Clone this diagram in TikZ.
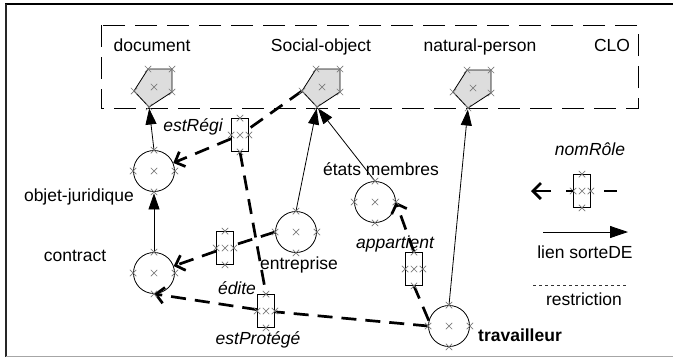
\documentclass[tikz,border=0pt]{standalone}
\usepackage{fontspec}
\setmainfont{Liberation Sans}
\usetikzlibrary{arrows.meta}
\definecolor{xcol}{RGB}{120,120,120}
\definecolor{pentfill}{RGB}{221,221,221}
\tikzset{
  xmk/.pic={\draw[xcol,line width=0.7pt,solid] (-3.2,-3.2)--(3.2,3.2) (-3.2,3.2)--(3.2,-3.2);},
  lbl/.style={font=\fontsize{17.5}{20}\selectfont, inner sep=0pt, anchor=base},
  ilbl/.style={lbl, font=\fontsize{17.5}{20}\selectfont\itshape},
  blbl/.style={lbl, font=\fontsize{17.5}{20}\selectfont\bfseries},
  pent/.style={draw=black, fill=pentfill, line width=0.8pt},
  conc/.style={circle, draw=black, line width=0.8pt, minimum size=41pt, inner sep=0pt, fill=white},
  relbox/.style={rectangle, draw=black, line width=0.8pt, minimum width=17pt, minimum height=33pt, inner sep=0pt, fill=white},
  sorte/.style={draw=black, line width=0.8pt, -{Triangle[length=16pt,width=11pt]}, shorten >=1.5pt},
  relline/.style={draw=black, line width=2.7pt, dash pattern=on 15pt off 9pt},
  relarrow/.style={relline, -{Straight Barb[length=8pt,width=16pt]}},
  clobox/.style={draw=black, line width=1pt, dash pattern=on 22pt off 10pt},
}
\newcommand\pentag[3]{%
  \begin{scope}[shift={(#2,#3)}]
    \coordinate (#1) at (0,0);
    \coordinate (#1-tl) at (-6,-18);
    \coordinate (#1-tr) at (18,-18);
    \coordinate (#1-r) at (18,5);
    \coordinate (#1-b) at (-5,20);
    \coordinate (#1-l) at (-20,4);
    \draw[pent] (#1-tl)--(#1-tr)--(#1-r)--(#1-b)--(#1-l)--cycle;
  \end{scope}}
\newcommand\pentmarks[1]{\foreach \v in {tl,tr,r,b,l} {\pic at (#1-\v) {xmk};}\pic at (#1) {xmk};}
\newcommand\nodemarks[1]{\foreach \a in {north,south,east,west,center} {\pic at (#1.\a) {xmk};}}
\begin{document}
\begin{tikzpicture}[x=1pt,y=-1pt]
\useasboundingbox (0,0) rectangle (673,357);
% outer frame
\draw[black,line width=1.5pt] (5,4) -- (673,4);
\draw[black!85,line width=2pt] (6,4) -- (6,357);
\draw[black!35,line width=1pt] (6,356) -- (673,356);
% CLO box
\draw[clobox] (101,25) rectangle (638,108);
\node[lbl] (tdoc) at (152,51) {document};
\node[lbl] (tsoc) at (321,51) {Social-object};
\node[lbl] (tnp) at (480,51) {natural-person};
\node[lbl] (tclo) at (612,51) {CLO};
% pentagons
\pentag{doc}{154}{87}
\pentag{soc}{322}{87}
\pentag{np}{473}{88}
% concept circles
\node[conc] (oj) at (154,171) {};
\node[conc] (ct) at (154,273) {};
\node[conc] (ent) at (296,232) {};
\node[conc] (em) at (375,202) {};
\node[conc] (tr) at (449,326) {};
% relation boxes
\node[relbox] (er) at (240,135) {};
\node[relbox] (ed) at (225,248) {};
\node[relbox] (ep) at (266,311) {};
\node[relbox] (ap) at (414,269) {};
% sorteDE links
\draw[sorte] (oj.north) -- (doc-b);
\draw[sorte] (ct.north) -- (oj.south);
\draw[sorte] (ent.north) -- (soc-b);
\draw[sorte] (em.north) -- (soc-b);
\draw[sorte] (tr.north) -- (np-b);
% relation links
\draw[relline] (soc-l) -- (er);
\draw[relarrow] (er) -- (oj);
\draw[relline] (er.south) -- (ep.north);
\draw[relline] (ent.west) -- (ed);
\draw[relarrow] (ed) -- (ct);
\draw[relline] (tr.west) -- (ep);
\draw[relarrow] (ep) -- (ct.south);
\draw[relline] (tr.165) -- (ap.south);
\draw[relarrow] (ap.north) -- (em.east);
% redraw boxes on top
\node[relbox] at (er) {};
\node[relbox] at (ed) {};
\node[relbox] at (ep) {};
\node[relbox] at (ap) {};
% marks
\pentmarks{doc}
\pentmarks{soc}
\pentmarks{np}
\nodemarks{oj}
\nodemarks{ct}
\nodemarks{ent}
\nodemarks{em}
\nodemarks{tr}
\nodemarks{er}
\nodemarks{ed}
\nodemarks{ep}
\nodemarks{ap}
% labels
\node[ilbl] (ler) at (193,131) {estRégi};
\node[lbl] (loj) at (79,201) {objet-juridique};
\node[lbl] (lct) at (75,261) {contract};
\node[lbl] (lent) at (299,269) {entreprise};
\node[lbl] (lem) at (381,175) {états membres};
\node[ilbl] (lap) at (395,248) {appartient};
\node[ilbl] (led) at (237,294) {édite};
\node[ilbl] (lep) at (258,344) {estProtégé};
\node[blbl] (ltr) at (520,341) {travailleur};
% legend
\node[ilbl] (lnr) at (590,155) {nomRôle};
\node[relbox] (lgb) at (582,191) {};
\nodemarks{lgb}
\coordinate (lga) at (551,191);
\coordinate (lgt) at (531,191);
\coordinate (lgr1) at (604,191);
\coordinate (lgr2) at (617,191);
\draw[black,line width=2.7pt] (lgb.west) -- ++(-7,0);
\draw[black,line width=2.7pt,-{Straight Barb[length=8pt,width=16pt]}] (lga) -- (lgt);
\draw[black,line width=2.7pt] (lgr1) -- (lgr2);
\coordinate (lsa) at (543,232);
\coordinate (lsb) at (628,232);
\draw[black,line width=0.8pt,-{Triangle[length=18pt,width=12pt]}] (lsa) -- (lsb);
\node[lbl] (lls) at (585,258) {lien sorteDE};
\coordinate (lra) at (533,285);
\coordinate (lrb) at (628,285);
\draw[black!80,line width=0.8pt,dash pattern=on 3pt off 3pt] (lra) -- (lrb);
\node[lbl] (llr) at (584,305) {restriction};
\end{tikzpicture}
\end{document}
